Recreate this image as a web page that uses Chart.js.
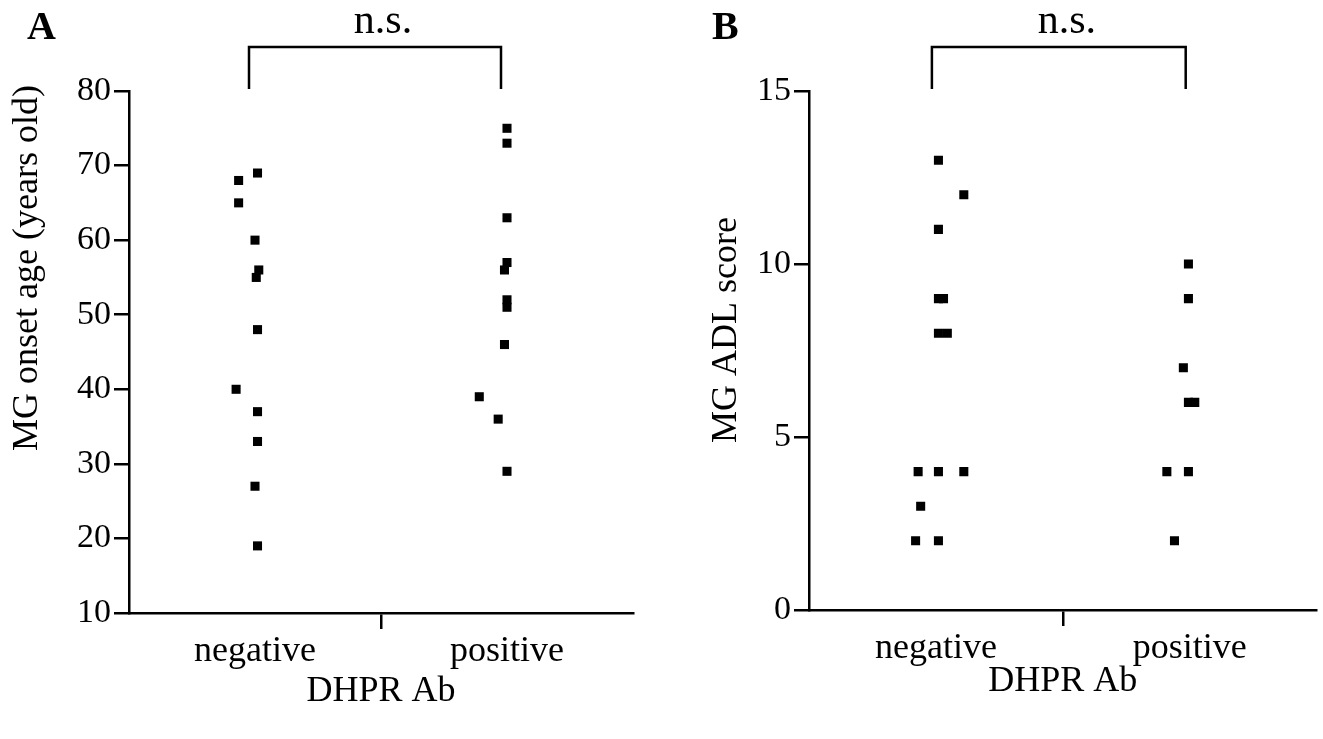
<!DOCTYPE html>
<html>
<head>
<meta charset="utf-8">
<script src="https://cdn.jsdelivr.net/npm/chart.js@4"></script>
<style>
  html, body { margin: 0; padding: 0; background: #fff; }
  #wrap { position: relative; width: 1323px; height: 739px; overflow: hidden; }
  .panel { position: absolute; top: 0; }
</style>
</head>
<body>
<div id="wrap">
  <div class="panel" style="left:0px"><canvas id="chartA" width="660" height="739"></canvas></div>
  <div class="panel" style="left:680px"><canvas id="chartB" width="643" height="739"></canvas></div>
</div>
<script>
// groups on the x axis
const groups = ['negative', 'positive'];

// panel A: MG onset age (years old)
const onsetNeg = [69, 68, 65, 60, 56, 55, 48, 40, 37, 33, 27, 19];
const onsetNegJitter = [0.01, -0.065, -0.065, 0, 0.015, 0.005, 0.01, -0.075, 0.01, 0.01, 0, 0.01];
const onsetPos = [75, 73, 63, 57, 56, 52, 51, 46, 39, 36, 29];
const onsetPosJitter = [0, 0, 0, 0, -0.01, 0, 0, -0.01, -0.11, -0.035, 0];
const onsetTicks = { min: 10, max: 80, step: 10 };

// panel B: MG ADL score
const adlNeg = [13, 12, 11, 9, 9, 8, 8, 4, 4, 4, 3, 2, 2];
const adlNegJitter = [0.01, 0.11, 0.01, 0.01, 0.03, 0.01, 0.045, -0.07, 0.01, 0.11, -0.06, -0.08, 0.01];
const adlPos = [10, 9, 7, 6, 6, 4, 4, 2];
const adlPosJitter = [-0.005, -0.005, -0.025, -0.005, 0.02, -0.09, -0.005, -0.06];
const adlTicks = { min: 0, max: 15, step: 5 };

const FONT = '"Liberation Serif", "Times New Roman", serif';

function toPoints(values, jitter, groupIndex) {
    return values.map((v, i) => ({ x: groupIndex + 1 + jitter[i], y: v }));
}

// bracket with "n.s.", panel letter and rotated y title
const annotate = {
    id: 'annotate',
    afterDraw(chart, args, opts) {
        const { ctx, chartArea, scales } = chart;
        const x1 = scales.x.getPixelForValue(1) - opts.shift;
        const x2 = scales.x.getPixelForValue(2) - opts.shift;
        const top = chartArea.top;
        ctx.save();
        ctx.strokeStyle = '#000';
        ctx.lineWidth = 2.5;
        ctx.beginPath();
        ctx.moveTo(x1, top - 2);
        ctx.lineTo(x1, top - 44);
        ctx.lineTo(x2, top - 44);
        ctx.lineTo(x2, top - 2);
        ctx.stroke();

        ctx.fillStyle = '#000';
        ctx.textAlign = 'center';
        ctx.textBaseline = 'alphabetic';
        ctx.font = '42px ' + FONT;
        ctx.fillText(opts.mark, (x1 + x2) / 2 + 8, top - 58);

        ctx.textAlign = 'left';
        ctx.font = 'bold 40px ' + FONT;
        ctx.fillText(opts.letter, opts.letterX, 39);

        ctx.translate(opts.titleX, opts.titleY);
        ctx.rotate(-Math.PI / 2);
        ctx.textAlign = 'center';
        ctx.textBaseline = 'middle';
        ctx.font = '36px ' + FONT;
        ctx.fillText(opts.yTitle, 0, 0);
        ctx.restore();
    }
};

function makePanel(id, cfg) {
    const ctx = document.getElementById(id).getContext('2d');
    return new Chart(ctx, {
        type: 'scatter',
        data: {
            datasets: [
                { data: toPoints(cfg.neg, cfg.negJitter, 0) },
                { data: toPoints(cfg.pos, cfg.posJitter, 1) }
            ]
        },
        options: {
            responsive: false,
            animation: false,
            layout: { padding: { left: 0, right: cfg.padRight, top: 91, bottom: 0 } },
            elements: {
                point: { pointStyle: 'rect', radius: 6.4, borderWidth: 0, backgroundColor: '#000', hoverRadius: 6.4 }
            },
            plugins: {
                legend: { display: false },
                tooltip: { enabled: false },
                annotate: {
                    mark: 'n.s.',
                    shift: cfg.bracketShift,
                    letter: cfg.letter,
                    letterX: cfg.letterX,
                    yTitle: cfg.yTitle,
                    titleX: cfg.titleX,
                    titleY: cfg.titleY
                }
            },
            scales: {
                x: {
                    type: 'linear',
                    min: 0.5,
                    max: 2.5,
                    afterBuildTicks: s => { s.ticks = [{ value: 1 }, { value: 1.5 }, { value: 2 }]; },
                    afterFit: s => { s.height = cfg.xHeight; },
                    border: { display: true, color: '#000', width: 2.5 },
                    grid: {
                        drawOnChartArea: false,
                        drawTicks: true,
                        tickLength: 16,
                        lineWidth: 2.5,
                        color: c => (c.tick && c.tick.value === 1.5) ? '#000' : 'rgba(0,0,0,0)'
                    },
                    ticks: {
                        autoSkip: false,
                        maxRotation: 0,
                        padding: 1,
                        color: '#000',
                        font: { family: FONT, size: 36 },
                        callback: v => v === 1 ? groups[0] : (v === 2 ? groups[1] : '')
                    },
                    title: {
                        display: true,
                        text: 'DHPR Ab',
                        color: '#000',
                        font: { family: FONT, size: 36 },
                        padding: { top: 0, bottom: cfg.xTitlePad }
                    }
                },
                y: {
                    min: cfg.ticks.min,
                    max: cfg.ticks.max,
                    afterFit: s => { s.width = cfg.yWidth; },
                    border: { display: true, color: '#000', width: 2.5 },
                    grid: { drawOnChartArea: false, drawTicks: true, tickLength: 15, lineWidth: 2.5, color: '#000' },
                    ticks: {
                        stepSize: cfg.ticks.step,
                        padding: 3,
                        color: '#000',
                        font: { family: FONT, size: 34 }
                    }
                }
            }
        },
        plugins: [annotate]
    });
}

makePanel('chartA', {
    neg: onsetNeg, negJitter: onsetNegJitter,
    pos: onsetPos, posJitter: onsetPosJitter,
    ticks: onsetTicks,
    yTitle: 'MG onset age (years old)',
    letter: 'A', letterX: 27,
    titleX: 28, titleY: 268,
    yWidth: 129, xHeight: 126, padRight: 27, xTitlePad: 26,
    bracketShift: 6
});

makePanel('chartB', {
    neg: adlNeg, negJitter: adlNegJitter,
    pos: adlPos, posJitter: adlPosJitter,
    ticks: adlTicks,
    yTitle: 'MG ADL score',
    letter: 'B', letterX: 32,
    titleX: 47, titleY: 330,
    yWidth: 129, xHeight: 129, padRight: 1, xTitlePad: 36,
    bracketShift: 4
});
</script>
</body>
</html>
